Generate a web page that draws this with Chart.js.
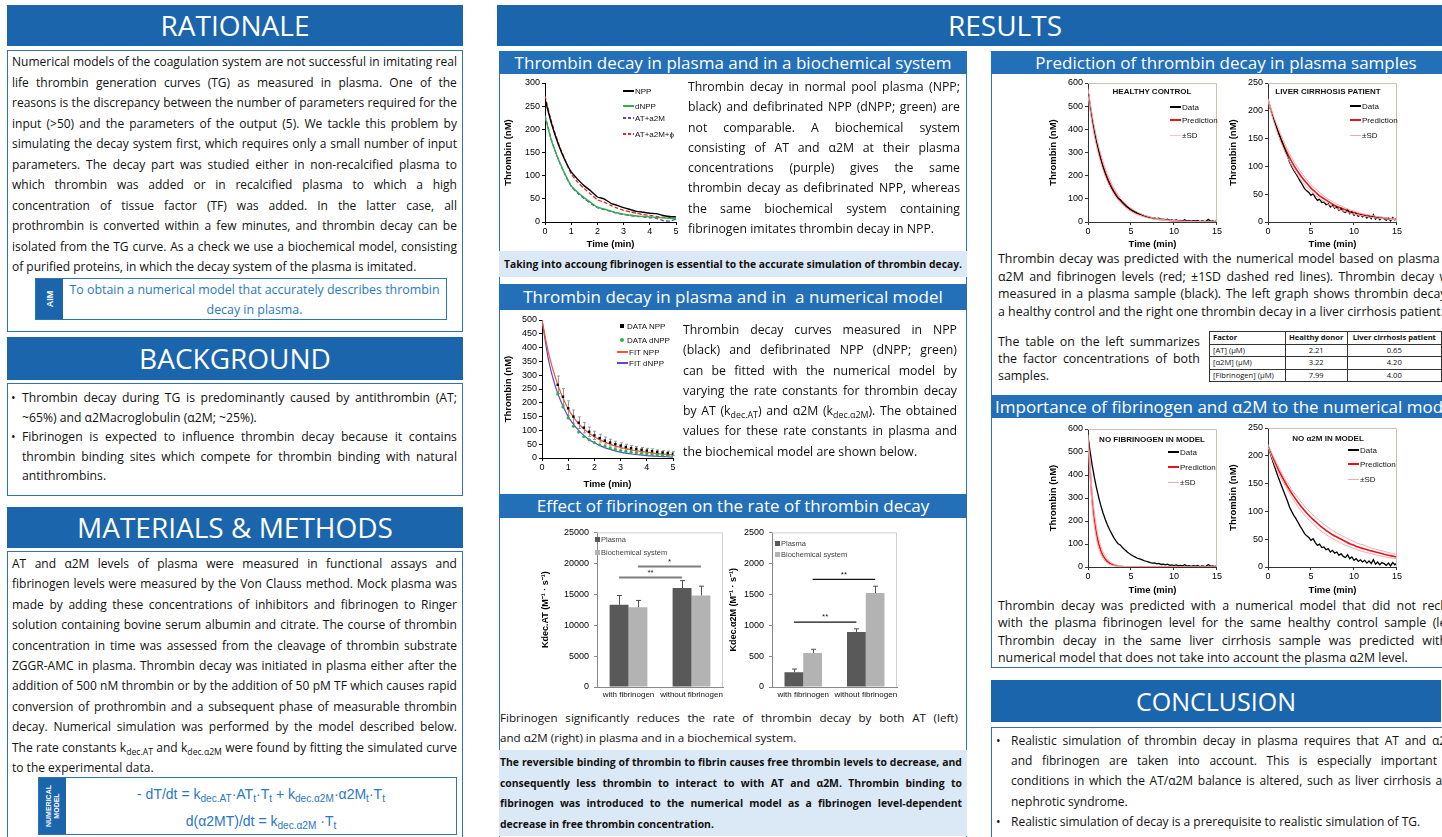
<!DOCTYPE html>
<html>
<head>
<meta charset="utf-8">
<script src="https://cdn.jsdelivr.net/npm/chart.js@4.4.1/dist/chart.umd.min.js"></script>
<style>
  body { margin: 0; width: 1442px; height: 837px; overflow: hidden; background: #fff; position: relative; font-family: 'Open Sans', sans-serif; color: #111; }
  .abs { position: absolute; }
  .hd { position: absolute; background: #1b65ad; color: #fff; text-align: center; font-size: 28px; }
  .sh { position: absolute; background: #2470b8; color: #fff; text-align: center; font-size: 17px; white-space: nowrap; overflow: hidden; }
  .bx { position: absolute; border: 1px solid #2f74b5; box-sizing: border-box; }
  .txt { position: absolute; }
  .ln { white-space: nowrap; }
  .jf { display: flex; justify-content: space-between; white-space: nowrap; }
  sub { font-size: 0.72em; line-height: 0; vertical-align: -0.3em; }
  .cap { position: absolute; background: #dbe8f5; font-weight: bold; font-size: 10.3px; }
  .tab { position: absolute; left: 0; top: 0; bottom: 0; background: #1b65ad; color: #fff; font-weight: bold; font-family: 'Liberation Sans', Arial, sans-serif; }
  .tab span { position: absolute; left: 50%; top: 50%; transform: translate(-50%, -50%) rotate(-90deg); white-space: nowrap; text-align: center; }
  canvas { position: absolute; }
  .lg { position: absolute; font: 8px 'Liberation Sans', Arial, sans-serif; display: flex; align-items: center; height: 10px; white-space: nowrap; color: #111; }
  .lg i { display: inline-block; width: 11px; height: 2px; margin-right: 1px; }
  .lg b { display: inline-block; width: 4px; height: 4px; margin-right: 3px; }
  .ct { position: absolute; font: bold 8px 'Liberation Sans', Arial, sans-serif; white-space: nowrap; transform: translateX(-50%); }
  table { border-collapse: collapse; font-size: 7.6px; font-family: 'Open Sans', sans-serif; }
  td { border: 1px solid #333; padding: 0 3px; height: 11.5px; line-height: 11px; text-align: center; }
  td:first-child { text-align: left; }
</style>
</head>
<body>

<!-- left column -->
<div class="hd" style="left:7px;top:5px;width:456px;height:41px;line-height:41px">RATIONALE</div>
<div class="bx" style="left:7px;top:50px;width:456px;height:282px"></div>
<div class="txt" id="rat" style="left:12px;top:52px;width:445px;font-size:12px;line-height:20.5px"></div>
<div class="bx" style="left:35px;top:278px;width:412px;height:42px">
  <div class="tab" style="width:27px;font-size:9px"><span>AIM</span></div>
  <div class="abs" style="left:27px;right:0;top:1px;text-align:center;color:#2a78c2;font-size:12.4px;line-height:20px">To obtain a numerical model that accurately describes thrombin<br>decay in plasma.</div>
</div>

<div class="hd" style="left:7px;top:337px;width:456px;height:43px;line-height:43px">BACKGROUND</div>
<div class="bx" style="left:7px;top:383px;width:456px;height:113px"></div>
<div class="abs" style="left:11px;top:388px;font-size:12.2px;line-height:19.5px">•</div>
<div class="abs" style="left:11px;top:427px;font-size:12.2px;line-height:19.5px">•</div>
<div class="txt" id="bg1" style="left:22px;top:388px;width:435px;font-size:12.2px;line-height:19.5px"></div>
<div class="txt" id="bg2" style="left:22px;top:427px;width:435px;font-size:12.2px;line-height:19.5px"></div>

<div class="hd" style="left:7px;top:507px;width:456px;height:41px;line-height:41px">MATERIALS &amp; METHODS</div>
<div class="bx" style="left:7px;top:551px;width:456px;height:300px"></div>
<div class="txt" id="mm" style="left:12px;top:554px;width:445px;font-size:12px;line-height:20.4px"></div>
<div class="bx" style="left:38px;top:777px;width:419px;height:58px">
  <div class="tab" style="width:27px;font-size:7px;line-height:8px"><span>NUMERICAL<br>MODEL</span></div>
  <div class="abs" style="left:27px;right:0;top:3px;text-align:center;color:#2a78c2;font-family:'Liberation Sans',Arial,sans-serif;font-size:14px;line-height:27px">
    - dT/dt = k<sub>dec.AT</sub>·AT<sub>t</sub>·T<sub>t</sub> + k<sub>dec.α2M</sub>·α2M<sub>t</sub>·T<sub>t</sub><br>
    d(α2MT)/dt = k<sub>dec.α2M</sub> ·T<sub>t</sub>
  </div>
</div>

<!-- results -->
<div class="hd" style="left:497px;top:5px;width:1016px;height:41px;line-height:41px">RESULTS</div>

<div class="bx" style="left:499px;top:51px;width:468px;height:800px"></div>
<div class="sh" style="left:499px;top:51px;width:468px;height:23px;line-height:23px">Thrombin decay in plasma and in a biochemical system</div>
<canvas id="c1" width="180" height="175" style="left:503px;top:75px"></canvas>
<div class="lg" style="left:623px;top:86px"><i style="background:#000"></i>NPP</div>
<div class="lg" style="left:623px;top:101px"><i style="background:#2db34a"></i>dNPP</div>
<div class="lg" style="left:623px;top:113px"><i style="background:repeating-linear-gradient(90deg,#6a3fb5 0 3px,transparent 3px 5px)"></i>AT+a2M</div>
<div class="lg" style="left:623px;top:129px"><i style="background:repeating-linear-gradient(90deg,#e8262a 0 3px,transparent 3px 5px)"></i>AT+a2M+ϕ</div>
<div class="txt" id="t1" style="left:688px;top:77px;width:272px;font-size:12.3px;line-height:20.3px"></div>
<div class="cap" style="left:499px;top:251px;width:468px;height:26px;line-height:26px;text-align:center">Taking into accoung fibrinogen is essential to the accurate simulation of thrombin decay.</div>

<div class="sh" style="left:499px;top:284px;width:468px;height:26px;line-height:26px">Thrombin decay in plasma and in&nbsp; a numerical model</div>
<canvas id="c2" width="180" height="178" style="left:503px;top:312px"></canvas>
<div class="lg" style="left:620px;top:321px"><b style="background:#000"></b>DATA NPP</div>
<div class="lg" style="left:620px;top:335px"><b style="background:#2db34a;border-radius:50%"></b>DATA dNPP</div>
<div class="lg" style="left:617px;top:347px"><i style="background:#f0553a;height:1.5px"></i>FIT NPP</div>
<div class="lg" style="left:617px;top:358px"><i style="background:#5b4bc4;height:1.5px"></i>FIT dNPP</div>
<div class="txt" id="t2" style="left:683px;top:320px;width:274px;font-size:12.3px;line-height:20.3px"></div>

<div class="sh" style="left:499px;top:494px;width:468px;height:24px;line-height:24px">Effect of fibrinogen on the rate of thrombin decay</div>
<canvas id="b1" width="190" height="183" style="left:540px;top:522px"></canvas>
<canvas id="b2" width="180" height="183" style="left:728px;top:522px"></canvas>
<div class="lg" style="left:595px;top:534px;font-size:7.5px;color:#444"><b style="background:#595959;width:5px;height:5px;margin-right:1px"></b>Plasma</div>
<div class="lg" style="left:595px;top:547px;font-size:7.5px;color:#444"><b style="background:#b3b3b3;width:5px;height:5px;margin-right:1px"></b>Biochemical system</div>
<div class="lg" style="left:775px;top:538px;font-size:7.5px;color:#444"><b style="background:#595959;width:5px;height:5px;margin-right:1px"></b>Plasma</div>
<div class="lg" style="left:775px;top:549px;font-size:7.5px;color:#444"><b style="background:#b3b3b3;width:5px;height:5px;margin-right:1px"></b>Biochemical system</div>
<div class="txt" id="t3" style="left:500px;top:708px;width:458px;font-size:11.6px;line-height:20px"></div>
<div class="cap" style="left:499px;top:750px;width:468px;height:86px"></div>
<div class="txt" id="t4" style="left:500px;top:752px;width:462px;font-size:10.4px;line-height:20.7px;font-weight:bold"></div>

<!-- right results column -->
<div class="bx" style="left:991px;top:51px;width:470px;height:617px"></div>
<div class="sh" style="left:991px;top:51px;width:470px;height:23px;line-height:23px">Prediction of thrombin decay in plasma samples</div>
<canvas id="r1" width="175" height="175" style="left:1048px;top:75px"></canvas>
<canvas id="r2" width="175" height="175" style="left:1228px;top:75px"></canvas>
<div class="ct" style="left:1152px;top:87px">HEALTHY CONTROL</div>
<div class="lg" style="left:1170px;top:102px"><i style="background:#000"></i>Data</div>
<div class="lg" style="left:1170px;top:115px"><i style="background:#e8141b"></i>Prediction</div>
<div class="lg" style="left:1170px;top:130px"><i style="background:#f9c6c6;height:1px"></i>±SD</div>
<div class="ct" style="left:1328px;top:87px">LIVER CIRRHOSIS PATIENT</div>
<div class="lg" style="left:1350px;top:101px"><i style="background:#000"></i>Data</div>
<div class="lg" style="left:1350px;top:115px"><i style="background:#e8141b"></i>Prediction</div>
<div class="lg" style="left:1350px;top:130px"><i style="background:#f7a9a9;height:1px"></i>±SD</div>
<div class="txt" id="t5" style="left:998px;top:250px;width:464px;font-size:12.4px;line-height:17.7px"></div>
<div class="txt" id="t6" style="left:998px;top:333px;width:202px;font-size:12.4px;line-height:17px"></div>
<table class="abs" style="left:1209px;top:331px">
  <tr><td style="width:70px;font-weight:bold">Factor</td><td style="width:56px;font-weight:bold">Healthy donor</td><td style="width:90px;font-weight:bold">Liver cirrhosis patient</td></tr>
  <tr><td>[AT] (μM)</td><td>2.21</td><td>0.65</td></tr>
  <tr><td>[α2M] (μM)</td><td>3.22</td><td>4.20</td></tr>
  <tr><td>[Fibrinogen] (μM)</td><td>7.99</td><td>4.00</td></tr>
</table>

<div class="sh" style="left:991px;top:395px;width:470px;height:23px;line-height:23px">Importance of fibrinogen and α2M to the numerical model</div>
<canvas id="r3" width="175" height="176" style="left:1048px;top:420px"></canvas>
<canvas id="r4" width="175" height="176" style="left:1228px;top:420px"></canvas>
<div class="ct" style="left:1152px;top:435px">NO FIBRINOGEN IN MODEL</div>
<div class="lg" style="left:1168px;top:447px"><i style="background:#000"></i>Data</div>
<div class="lg" style="left:1168px;top:462px"><i style="background:#e8141b"></i>Prediction</div>
<div class="lg" style="left:1168px;top:477px"><i style="background:#f7a9a9;height:1px"></i>±SD</div>
<div class="ct" style="left:1328px;top:434px">NO α2M IN MODEL</div>
<div class="lg" style="left:1348px;top:445px"><i style="background:#000"></i>Data</div>
<div class="lg" style="left:1348px;top:459px"><i style="background:#e8141b"></i>Prediction</div>
<div class="lg" style="left:1348px;top:474px"><i style="background:#f7a9a9;height:1px"></i>±SD</div>
<div class="txt" id="t7" style="left:998px;top:597px;width:464px;font-size:12.4px;line-height:17.4px"></div>

<div class="hd" style="left:991px;top:680px;width:450px;height:42px;line-height:42px;font-size:25px">CONCLUSION</div>
<div class="bx" style="left:991px;top:727px;width:470px;height:130px"></div>
<div class="abs" style="left:996px;top:731px;font-size:12px;line-height:20.2px">•</div>
<div class="abs" style="left:996px;top:812px;font-size:12px;line-height:20.2px">•</div>
<div class="txt" id="t8" style="left:1011px;top:731px;width:446px;font-size:12px;line-height:20.2px"></div>
<div class="txt" id="t9" style="left:1011px;top:812px;width:446px;font-size:12px;line-height:20.2px"></div>

<script>
// ---------- text ----------
const rationaleLines = [
  'Numerical models of the coagulation system are not successful in imitating real',
  'life thrombin generation curves (TG) as measured in plasma. One of the',
  'reasons is the discrepancy between the number of parameters required for the',
  'input (>50) and the parameters of the output (5). We tackle this problem by',
  'simulating the decay system first, which requires only a small number of input',
  'parameters. The decay part was studied either in non-recalcified plasma to',
  'which thrombin was added or in recalcified plasma to which a high',
  'concentration of tissue factor (TF) was added. In the latter case, all',
  'prothrombin is converted within a few minutes, and thrombin decay can be',
  'isolated from the TG curve. As a check we use a biochemical model, consisting',
  'of purified proteins, in which the decay system of the plasma is imitated.'
];
const bg1Lines = [
  'Thrombin decay during TG is predominantly caused by antithrombin (AT;',
  '~65%) and α2Macroglobulin (α2M; ~25%).'
];
const bg2Lines = [
  'Fibrinogen is expected to influence thrombin decay because it contains',
  'thrombin binding sites which compete for thrombin binding with natural',
  'antithrombins.'
];
const mmLines = [
  'AT and α2M levels of plasma were measured in functional assays and',
  'fibrinogen levels were measured by the Von Clauss method. Mock plasma was',
  'made by adding these concentrations of inhibitors and fibrinogen to Ringer',
  'solution containing bovine serum albumin and citrate. The course of thrombin',
  'concentration in time was assessed from the cleavage of thrombin substrate',
  'ZGGR-AMC in plasma. Thrombin decay was initiated in plasma either after the',
  'addition of 500 nM thrombin or by the addition of 50 pM TF which causes rapid',
  'conversion of prothrombin and a subsequent phase of measurable thrombin',
  'decay. Numerical simulation was performed by the model described below.',
  'The rate constants k<sub>dec.AT</sub> and k<sub>dec.α2M</sub> were found by fitting the simulated curve',
  'to the experimental data.'
];
const t1Lines = [
  'Thrombin decay in normal pool plasma (NPP;',
  'black) and defibrinated NPP (dNPP; green) are',
  'not comparable. A biochemical system',
  'consisting of AT and α2M at their plasma',
  'concentrations (purple) gives the same',
  'thrombin decay as defibrinated NPP, whereas',
  'the same biochemical system containing',
  'fibrinogen imitates thrombin decay in NPP.'
];
const t2Lines = [
  'Thrombin decay curves measured in NPP',
  '(black) and defibrinated NPP (dNPP; green)',
  'can be fitted with the numerical model by',
  'varying the rate constants for thrombin decay',
  'by AT (k<sub>dec.AT</sub>) and α2M (k<sub>dec.α2M</sub>). The obtained',
  'values for these rate constants in plasma and',
  'the biochemical model are shown below.'
];
const t3Lines = [
  'Fibrinogen significantly reduces the rate of thrombin decay by both AT (left)',
  'and α2M (right) in plasma and in a biochemical system.'
];
const t4Lines = [
  'The reversible binding of thrombin to fibrin causes free thrombin levels to decrease, and',
  'consequently less thrombin to interact to with AT and α2M. Thrombin binding to',
  'fibrinogen was introduced to the numerical model as a fibrinogen level-dependent',
  'decrease in free thrombin concentration.'
];
const t5Lines = [
  'Thrombin decay was predicted with the numerical model based on plasma AT,',
  'α2M and fibrinogen levels (red; ±1SD dashed red lines). Thrombin decay was',
  'measured in a plasma sample (black). The left graph shows thrombin decay in',
  'a healthy control and the right one thrombin decay in a liver cirrhosis patient.'
];
const t6Lines = [
  'The table on the left summarizes',
  'the factor concentrations of both',
  'samples.'
];
const t7Lines = [
  'Thrombin decay was predicted with a numerical model that did not reckon',
  'with the plasma fibrinogen level for the same healthy control sample (left).',
  'Thrombin decay in the same liver cirrhosis sample was predicted with a',
  'numerical model that does not take into account the plasma α2M level.'
];
const t8Lines = [
  'Realistic simulation of thrombin decay in plasma requires that AT and α2M',
  'and fibrinogen are taken into account. This is especially important in',
  'conditions in which the AT/α2M balance is altered, such as liver cirrhosis and',
  'nephrotic syndrome.'
];
const t9Lines = ['Realistic simulation of decay is a prerequisite to realistic simulation of TG.'];

function fill(id, lines) {
  document.getElementById(id).innerHTML = lines.map((l, i) => {
    if (i === lines.length - 1) return '<div class="ln">' + l + '</div>';
    return '<div class="jf">' + l.split(' ').filter(w => w).map(w => '<span>' + w + '</span>').join('') + '</div>';
  }).join('');
}
fill('rat', rationaleLines); fill('bg1', bg1Lines); fill('bg2', bg2Lines); fill('mm', mmLines);
fill('t1', t1Lines); fill('t2', t2Lines); fill('t3', t3Lines); fill('t4', t4Lines);
fill('t5', t5Lines); fill('t6', t6Lines); fill('t7', t7Lines); fill('t8', t8Lines); fill('t9', t9Lines);

// ---------- chart data ----------
// chart 1: decay in plasma vs biochemical system (0-5 min)
const t1 = [0,0.25,0.5,0.75,1,1.25,1.5,1.75,2,2.25,2.5,2.75,3,3.25,3.5,3.75,4,4.25,4.5,4.75,5];
const npp      = [265,212,169,135,108,92,78,67,54,50,41,36,31,27,23,21,19,18,14,12,11];
const dnpp     = [228,175,137,105,78,64,52,42,32,28,24,20,17,15,13,12,11,10,9,8,7];
const atA2m    = [230,176,136,104,77,62,50,40,31,27,23,19,16,14,12,11,9,8,3,2,6];
const atA2mFib = [272,216,172,136,104,86,72,60,48,43,36,30,25,22,19,16,14,12,10,9,8];

// chart 2: fit of numerical model
const tFit  = [0,0.25,0.5,0.75,1,1.25,1.5,1.75,2,2.25,2.5,2.75,3,3.25,3.5,3.75,4,4.25,4.5,4.75,5];
const fitNpp  = [500,380,295,228,178,142,114,93,77,64,54,45,38,33,28,24,21,18,15,13,11];
const fitDnpp = [500,355,262,198,150,116,90,70,55,43,34,27,21,17,13.5,11,8.5,7,5.5,4.5,3.5];
const tObs    = [0.6,0.8,1,1.2,1.4,1.6,1.8,2,2.2,2.4,2.6,2.8,3,3.2,3.4,3.6,3.8,4,4.2,4.4,4.6,4.8,5];
const obsNpp  = [265,222,180,150,128,110,95,82,72,63,56,50,45,40,36,33,30,27,25,22,20,18,16];
const obsNppErr = [32,30,27,24,21,19,17,15,14,13,12,11,10,10,9,9,8,8,8,7,7,7,7];
const obsDnpp = [232,185,145,115,94,78,66,56,48,42,36,31,27,24,21,19,17,15,13,12,11,10,9];

// bar charts: rate constants
const barCats = ['with fibrinogen', 'without fibrinogen'];
const kAtPlasma = [13300, 16000];
const kAtBiochem = [12900, 14800];
const kAtPlasmaErr = [1500, 1200];
const kAtBiochemErr = [1100, 1500];
const kA2mPlasma = [240, 890];
const kA2mBiochem = [550, 1520];
const kA2mPlasmaErr = [50, 50];
const kA2mBiochemErr = [60, 110];
const kAtSig = [{ ds: 0, y: 17700, label: '**' }, { ds: 1, y: 19500, label: '*' }];
const kA2mSig = [{ ds: 0, y: 1050, label: '**' }, { ds: 1, y: 1740, label: '**' }];

// prediction charts (0-15 min)
const tData = [0,0.25,0.5,0.75,1,1.25,1.5,1.75,2,2.25,2.5,2.75,3,3.25,3.5,3.75,4,4.25,4.5,4.75,5,5.25,5.5,5.75,6,6.25,6.5,6.75,7,7.25,7.5,7.75,8,8.25,8.5,8.75,9,9.25,9.5,9.75,10,10.25,10.5,10.75,11,11.25,11.5,11.75,12,12.25,12.5,12.75,13,13.25,13.5,13.75,14,14.25,14.5,14.75,15];
const hcData = [570,500,440,388, 342,302,266,235, 208,184,163,145, 128,114,101,96, 85,76,67,60, 53,48,43,38, 35,32,28,25, 22,19,17,18, 14,16,11,12, 9,12,7,9, 6,9,5,7, 5,10,4,6, 3,6,4,7, 2,5,3,4, 11,3,5,2, 6];
const lcData = [218,205,193,181, 170,159,149,139, 129,119,108,100, 93,87,80,73, 67,60,56,53, 48,51,44,39, 41,35,36,31, 33,27,30,25, 27,21,24,19, 17,22,15,18, 12,15,10,13, 9,12,7,11, 6,13,5,9, 4,8,6,3, 7,2,8,4, 7];
const tPred = [0,0.5,1,1.5,2,2.5,3,3.5,4,4.5,5,5.5,6,6.5,7,7.5,8,8.5,9,9.5,10,10.5,11,11.5,12,12.5,13,13.5,14,14.5,15];
const hcPred = [560,440,345,272,215,170,134,106,84,66,52,41,33,26,21,16.5,13,10.5,8.3,6.6,5.2,4.2,3.3,2.6,2.1,1.7,1.3,1,0.8,0.6,0.5];
const hcPredHi = [575,460,365,292,233,186,148,118,94,75,60,48,38,30,24,19,15,12,9.6,7.6,6,4.8,3.8,3,2.4,1.9,1.5,1.2,0.9,0.7,0.6];
const hcPredLo = [545,420,326,254,198,155,121,95,74,58,45,35,28,22,17,13.5,10.5,8.5,6.8,5.4,4.3,3.4,2.7,2.1,1.7,1.4,1.1,0.8,0.6,0.5,0.4];
const lcPred = [220,193,170,150,132,116,102,90,79,70,61,54,47,42,37,32,28,25,22,19,17,15,13,11.5,10,9,8,7,6,5.3,4.7];
const lcPredHi = [222,197,176,157,139,123,109,97,86,76,67,60,53,47,41,37,32,29,25,22,20,17,15,13.5,12,10.5,9.3,8.2,7.2,6.4,5.6];
const lcPredLo = [218,189,164,143,125,109,95,83,72,63,55,48,42,37,32,28,24,21,18.5,16,14,12.5,11,9.5,8.3,7.3,6.4,5.6,4.9,4.3,3.8];
const nfPred = [560,285,142,70,35,17,8.5,4.2,2.1,1,0.5,0.3,0.1,0,0,0,0,0,0,0,0,0,0,0,0,0,0,0,0,0,0];
const nfPredHi = [575,320,170,90,48,25,13,7,3.5,1.8,0.9,0.5,0.2,0.1,0,0,0,0,0,0,0,0,0,0,0,0,0,0,0,0,0];
const nfPredLo = [545,255,118,55,25,11,5.5,2.5,1.2,0.6,0.3,0.1,0,0,0,0,0,0,0,0,0,0,0,0,0,0,0,0,0,0,0];
const naPred = [218,199,182,166,152,139,127,116,106,97,89,82,75,69,63,58,54,50,46,42,39,36,33.5,31,29,27,25,23,21,19.5,18];
const naPredHi = [220,203,187,172,158,146,134,124,114,105,97,90,83,77,71,66,61,57,53,49,46,42,40,37,34,32,30,28,26,24,23];
const naPredLo = [216,195,177,160,146,132,120,108,98,89,81,74,67,61,56,51,47,43,39,36,33,30,28,26,24,22,20,19,17,16,15];

// ---------- plugins ----------
const framePlugin = {
  id: 'frame',
  afterDatasetsDraw(chart, args, opts) {
    if (!opts.color) return;
    const { ctx, chartArea: a } = chart;
    ctx.save();
    ctx.strokeStyle = opts.color; ctx.lineWidth = 1;
    ctx.beginPath();
    ctx.moveTo(a.left, a.top + 0.5);
    ctx.lineTo(a.right - 0.5, a.top + 0.5);
    ctx.lineTo(a.right - 0.5, a.bottom);
    ctx.stroke();
    ctx.restore();
  }
};
const pointErrPlugin = {
  id: 'pointErr',
  beforeDatasetsDraw(chart, args, opts) {
    if (!opts.t) return;
    const x = chart.scales.x, y = chart.scales.y, ctx = chart.ctx;
    ctx.save();
    ctx.strokeStyle = '#9a9a9a'; ctx.lineWidth = 1;
    opts.t.forEach((t, i) => {
      const px = Math.round(x.getPixelForValue(t)) + 0.5;
      const y1 = y.getPixelForValue(opts.v[i] - opts.e[i]);
      const y2 = y.getPixelForValue(opts.v[i] + opts.e[i]);
      ctx.beginPath();
      ctx.moveTo(px, y1); ctx.lineTo(px, y2);
      ctx.moveTo(px - 1.5, y1); ctx.lineTo(px + 1.5, y1);
      ctx.moveTo(px - 1.5, y2); ctx.lineTo(px + 1.5, y2);
      ctx.stroke();
    });
    ctx.restore();
  }
};
const barExtrasPlugin = {
  id: 'barExtras',
  afterDatasetsDraw(chart, args, opts) {
    if (!opts.errs) return;
    const ctx = chart.ctx, y = chart.scales.y;
    ctx.save();
    ctx.strokeStyle = '#505050'; ctx.lineWidth = 1;
    opts.errs.forEach((errs, d) => {
      chart.getDatasetMeta(d).data.forEach((bar, i) => {
        const v = chart.data.datasets[d].data[i];
        const px = Math.round(bar.x) + 0.5;
        const top = y.getPixelForValue(v + errs[i]);
        ctx.beginPath();
        ctx.moveTo(px, bar.y); ctx.lineTo(px, top);
        ctx.moveTo(px - 2.5, top); ctx.lineTo(px + 2.5, top);
        ctx.stroke();
      });
    });
    opts.sig.forEach(s => {
      const bars = chart.getDatasetMeta(s.ds).data;
      const py = y.getPixelForValue(s.y);
      ctx.strokeStyle = opts.sigColor; ctx.lineWidth = opts.sigWidth;
      ctx.beginPath(); ctx.moveTo(bars[0].x, py); ctx.lineTo(bars[1].x, py); ctx.stroke();
      ctx.fillStyle = '#222'; ctx.font = '8px "Liberation Sans", Arial';
      ctx.textAlign = 'center'; ctx.textBaseline = 'bottom';
      ctx.fillText(s.label, (bars[0].x + bars[1].x) / 2, py - 1);
    });
    ctx.restore();
  }
};
Chart.register(framePlugin, pointErrPlugin, barExtrasPlugin);

Chart.defaults.font.family = "'Liberation Sans', Arial, sans-serif";
Chart.defaults.color = '#000';
Chart.defaults.animation = false;
Chart.defaults.responsive = false;
Chart.defaults.plugins.legend.display = false;
Chart.defaults.plugins.tooltip.enabled = false;
Chart.defaults.elements.point.radius = 0;

const pts = (xs, ys) => xs.map((x, i) => ({ x: x, y: ys[i] }));
const plain = v => String(v);

function lineOptions(g, xMax, xStep, yMax, yStep, axisColor, frameColor, extraPlugins) {
  return {
    layout: { padding: { top: g.top, right: g.right, left: 0, bottom: 0 } },
    plugins: Object.assign({ frame: { color: frameColor } }, extraPlugins || {}),
    scales: {
      x: {
        type: 'linear', min: 0, max: xMax,
        ticks: { stepSize: xStep, font: { size: 9 }, padding: 1, maxRotation: 0, callback: plain },
        grid: { drawOnChartArea: false, tickLength: 3, color: axisColor },
        border: { color: axisColor },
        title: { display: true, text: 'Time (min)', font: { size: 9.5, weight: 'bold' }, padding: 0 },
        afterFit: s => { s.height = g.xH; }
      },
      y: {
        min: 0, max: yMax,
        ticks: { stepSize: yStep, font: { size: 9 }, padding: 2, callback: plain },
        grid: { drawOnChartArea: false, tickLength: 3, color: axisColor },
        border: { color: axisColor },
        title: { display: true, text: 'Thrombin (nM)', font: { size: 9.5, weight: 'bold' }, padding: 0 },
        afterFit: s => { s.width = g.yW; }
      }
    }
  };
}

// chart 1
new Chart(document.getElementById('c1'), {
  type: 'line',
  data: { datasets: [
    { data: pts(t1, npp), borderColor: '#000', borderWidth: 1.4, tension: 0.2 },
    { data: pts(t1, dnpp), borderColor: '#2db34a', borderWidth: 1.4, tension: 0.2 },
    { data: pts(t1, atA2m), borderColor: '#6a3fb5', borderWidth: 1.3, borderDash: [4, 2], tension: 0.2 },
    { data: pts(t1, atA2mFib), borderColor: '#e8262a', borderWidth: 1.3, borderDash: [4, 2], tension: 0.2 }
  ] },
  options: lineOptions({ yW: 42, top: 8, right: 7, xH: 28 }, 5, 1, 300, 50, '#000', null)
});

// chart 2
new Chart(document.getElementById('c2'), {
  type: 'line',
  data: { datasets: [
    { data: pts(tObs, obsNpp), showLine: false, pointRadius: 1.7, pointStyle: 'rect', pointBackgroundColor: '#000', pointBorderWidth: 0 },
    { data: pts(tObs, obsDnpp), showLine: false, pointRadius: 1.6, pointBackgroundColor: '#2db34a', pointBorderWidth: 0 },
    { data: pts(tFit, fitNpp), borderColor: '#f0553a', borderWidth: 1.2, cubicInterpolationMode: 'monotone' },
    { data: pts(tFit, fitDnpp), borderColor: '#5b4bc4', borderWidth: 1.2, cubicInterpolationMode: 'monotone' }
  ] },
  options: lineOptions({ yW: 39, top: 8, right: 10, xH: 32 }, 5, 1, 500, 50, '#000', null,
    { pointErr: { t: tObs, v: obsNpp, e: obsNppErr } })
});

// bar charts
function barChart(id, g, plasma, biochem, errs, sig, yMax, yStep, yTitle, sigColor, sigWidth) {
  return new Chart(document.getElementById(id), {
    type: 'bar',
    data: { labels: barCats, datasets: [
      { label: 'Plasma', data: plasma, backgroundColor: '#595959' },
      { label: 'Biochemical system', data: biochem, backgroundColor: '#b3b3b3' }
    ] },
    options: {
      layout: { padding: { top: g.top, right: g.right, left: 0, bottom: 0 } },
      datasets: { bar: { categoryPercentage: 0.6, barPercentage: 1 } },
      plugins: { frame: { color: '#d0d0d0' }, barExtras: { errs: errs, sig: sig, sigColor: sigColor, sigWidth: sigWidth } },
      scales: {
        x: {
          ticks: { font: { size: 8 }, padding: 3, color: '#111', maxRotation: 0, minRotation: 0, autoSkip: false },
          grid: { display: false, drawTicks: false },
          border: { color: '#888' },
          afterFit: s => { s.height = g.xH; }
        },
        y: {
          min: 0, max: yMax,
          ticks: { stepSize: yStep, font: { size: 9 }, padding: 5, callback: plain },
          grid: { drawOnChartArea: false, tickLength: 3, color: '#888' },
          border: { color: '#888' },
          title: { display: true, text: yTitle, font: { size: 9, weight: 'bold' }, padding: 0 },
          afterFit: s => { s.width = g.yW; }
        }
      }
    }
  });
}
barChart('b1', { yW: 57, top: 9, right: 7, xH: 18 }, kAtPlasma, kAtBiochem, [kAtPlasmaErr, kAtBiochemErr], kAtSig,
  25000, 5000, 'Kdec.AT (M⁻¹ · s⁻¹)', '#7f7f7f', 2);
barChart('b2', { yW: 44, top: 9, right: 11, xH: 18 }, kA2mPlasma, kA2mBiochem, [kA2mPlasmaErr, kA2mBiochemErr], kA2mSig,
  2500, 500, 'Kdec.α2M (M⁻¹ · s⁻¹)', '#111', 1.3);

// prediction charts
function predChart(id, g, data, pred, hi, lo, yMax, yStep) {
  return new Chart(document.getElementById(id), {
    type: 'line',
    data: { datasets: [
      { data: pts(tPred, hi), borderColor: '#f7a9a9', borderWidth: 1, cubicInterpolationMode: 'monotone' },
      { data: pts(tPred, lo), borderColor: '#f7a9a9', borderWidth: 1, cubicInterpolationMode: 'monotone' },
      { data: pts(tData, data), borderColor: '#000', borderWidth: 1.3 },
      { data: pts(tPred, pred), borderColor: '#e8141b', borderWidth: 1.6, cubicInterpolationMode: 'monotone' }
    ] },
    options: lineOptions(g, 15, 5, yMax, yStep, '#333', '#cdbfb2')
  });
}
predChart('r1', { yW: 40, top: 8, right: 6, xH: 28 }, hcData, hcPred, hcPredHi, hcPredLo, 600, 100);
predChart('r2', { yW: 40, top: 8, right: 6, xH: 28 }, lcData, lcPred, lcPredHi, lcPredLo, 250, 50);
predChart('r3', { yW: 40, top: 9, right: 6, xH: 29 }, hcData, nfPred, nfPredHi, nfPredLo, 600, 100);
predChart('r4', { yW: 40, top: 8, right: 6, xH: 29 }, lcData, naPred, naPredHi, naPredLo, 250, 50);
</script>
</body>
</html>
